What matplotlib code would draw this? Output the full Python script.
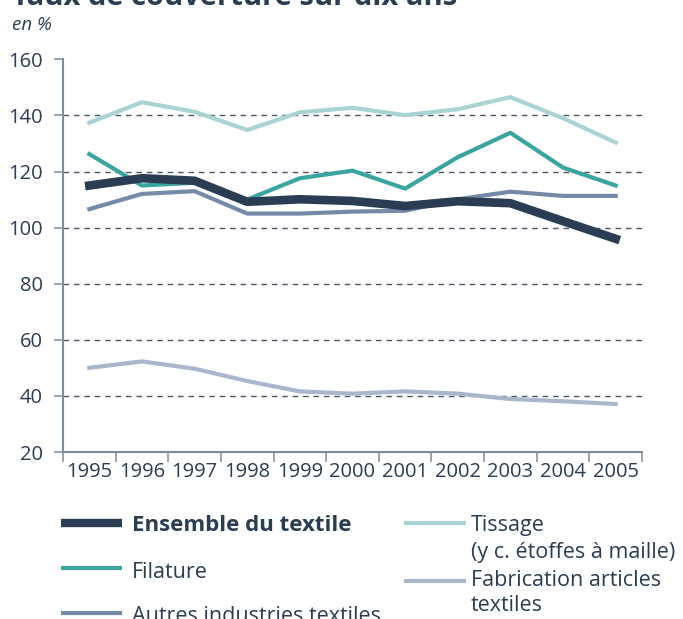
import matplotlib
matplotlib.use("Agg")
from matplotlib import pyplot as plt
from matplotlib.lines import Line2D
import numpy as np

# Données (taux de couverture, en %)
years = ["1995", "1996", "1997", "1998", "1999", "2000", "2001", "2002", "2003", "2004", "2005"]
ensemble = [115, 117.6, 116.7, 109.2, 110.1, 109.5, 107.7, 109.4, 108.7, 102.3, 96]
filature = [126.2, 115, 116, 110, 117.6, 120.3, 113.9, 125.1, 133.8, 121.4, 115]
autres = [106.6, 112, 113, 105, 105, 105.7, 106, 110.1, 112.8, 111.3, 111.3]
tissage = [137.4, 144.7, 141.3, 134.8, 141.1, 142.7, 140.1, 142.2, 146.5, 139, 130.3]
fabrication = [50, 52.3, 49.7, 45.3, 41.6, 40.8, 41.6, 40.8, 38.9, 38.1, 37.1]
yticks = [20, 40, 60, 80, 100, 120, 140, 160]

c_ens = "#2b3d52"
c_fil = "#3aa5a0"
c_aut = "#7589a8"
c_tis = "#aad3d3"
c_fab = "#a9b6cc"
c_txt = "#2b3d52"
c_axis = "#7f8c9c"

plt.rcParams['font.family'] = ['Open Sans', 'DejaVu Sans']

W, H = 683, 619
fig = plt.figure(figsize=(W / 100, H / 100), dpi=100)
ax = fig.add_axes([63 / W, 1 - 452 / H, (642 - 63) / W, (452 - 59.3) / H])

x = np.arange(len(years))
ax.plot(x, tissage, color=c_tis, lw=3, zorder=3)
ax.plot(x, fabrication, color=c_fab, lw=3, zorder=3)
ax.plot(x, autres, color=c_aut, lw=3, zorder=3)
ax.plot(x, filature, color=c_fil, lw=3, zorder=4)
ax.plot(x, ensemble, color=c_ens, lw=6.2, zorder=5)

ax.set_xlim(-0.5, len(years) - 0.5)
ax.set_ylim(20, 160)

# grille pointillée
for v in yticks[1:-1]:
    ax.axhline(v, color="#4a5566", lw=1.0, ls=(0, (4, 3.5)), zorder=1)

for s in ["top", "right"]:
    ax.spines[s].set_visible(False)
for s in ["left", "bottom"]:
    ax.spines[s].set_color(c_axis)
    ax.spines[s].set_linewidth(1.5)

ax.set_yticks(yticks)
ax.set_yticklabels([str(v) for v in yticks])
ax.tick_params(axis="y", length=6.5, width=1.1, color=c_axis, pad=8,
               labelsize=14.5, labelcolor=c_txt)

ax.set_xticks(np.arange(len(years) + 1) - 0.5)
ax.set_xticklabels([])
ax.tick_params(axis="x", which="major", length=7, width=1.1, color=c_axis)
ax.set_xticks(x, minor=True)
ax.set_xticklabels(years, minor=True)
ax.tick_params(axis="x", which="minor", length=0, pad=7,
               labelsize=14.5, labelcolor=c_txt)

# titre
fig.text(12 / W, 1 - 5 / H, "Taux de couverture sur dix ans", fontsize=21,
         fontweight="bold", color=c_txt, va="baseline", ha="left")
fig.text(12 / W, 1 - 30 / H, "en %", fontsize=13.5, style="italic",
         color=c_txt, va="baseline", ha="left")

# légende
def leg(x0, x1, y, color, lw):
    fig.add_artist(Line2D([x0 / W, x1 / W], [1 - y / H, 1 - y / H],
                          color=color, lw=lw, solid_capstyle="butt",
                          transform=fig.transFigure))

def ltxt(x0, base, label, weight="normal", size=15.5):
    fig.text(x0 / W, 1 - base / H, label, fontsize=size, color=c_txt,
             fontweight=weight, va="baseline", ha="left")

leg(61, 122, 522.7, c_ens, 6)
ltxt(132, 530.7, "Ensemble du textile", weight="bold", size=16)
leg(61, 122, 567.7, c_fil, 3)
ltxt(132, 578, "Filature")
leg(61, 122, 613.3, c_aut, 3)
ltxt(132, 622.5, "Autres industries textiles")

leg(404, 466, 522.7, c_tis, 3)
ltxt(471, 530.7, "Tissage")
ltxt(471, 558, "(y c. étoffes à maille)")
leg(404, 466, 580.7, c_fab, 3)
ltxt(471, 586, "Fabrication articles")
ltxt(471, 611, "textiles")

fig.savefig("out.png", dpi=100)
